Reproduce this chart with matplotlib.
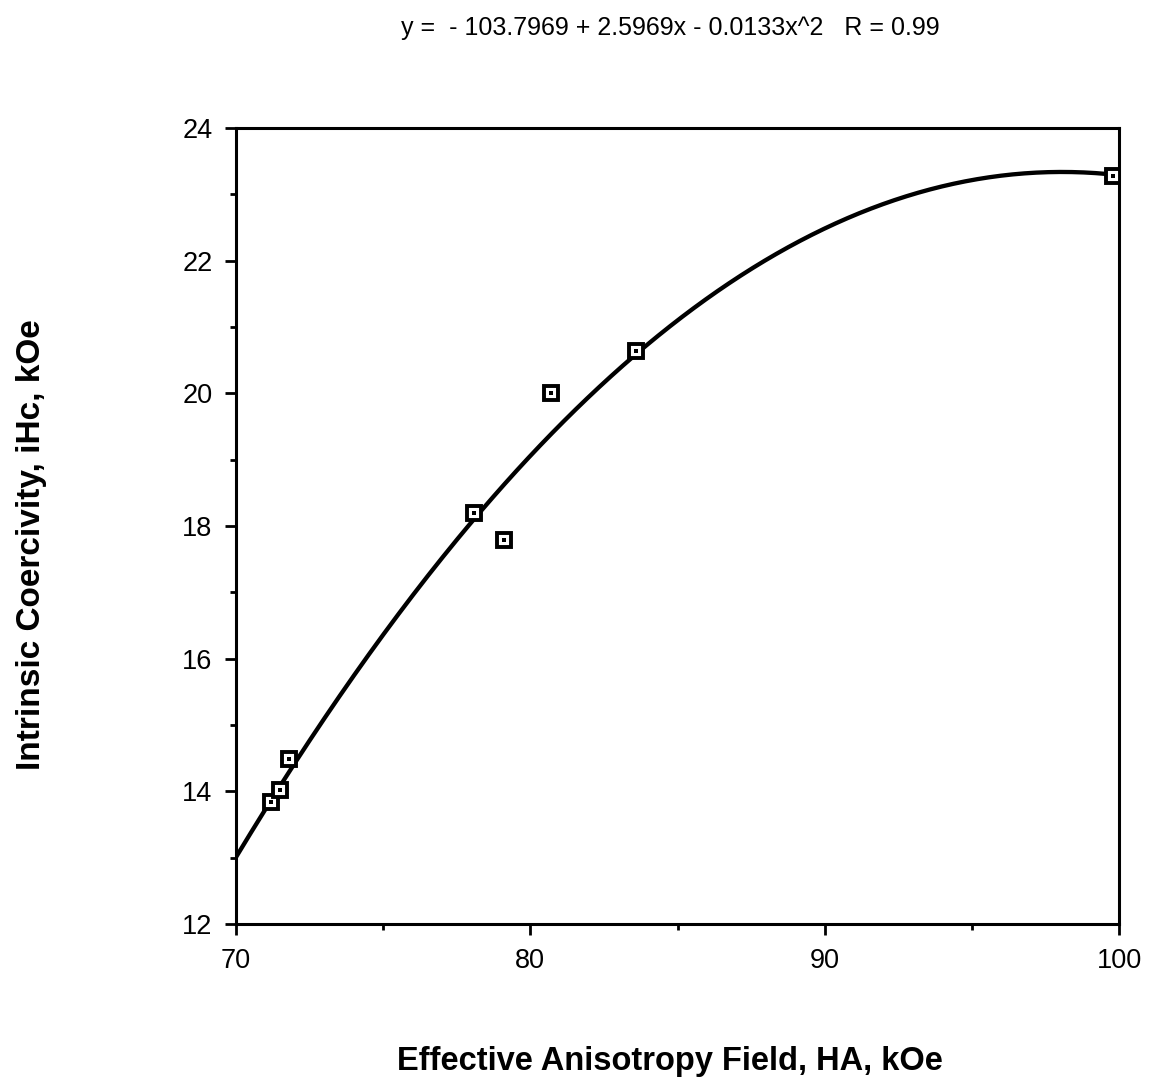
import matplotlib
matplotlib.use('Agg')
import matplotlib.pyplot as plt
import numpy as np

plt.rcParams['font.family'] = ['Liberation Sans', 'DejaVu Sans']

# measured samples
ha_koe = [71.2, 71.5, 71.8, 78.1, 79.1, 80.7, 83.6, 99.8]
ihc_koe = [13.84, 14.02, 14.49, 18.19, 17.79, 20.00, 20.64, 23.28]

equation = 'y =  - 103.7969 + 2.5969x - 0.0133x^2   R = 0.99'
x_ticks = [70, 80, 90, 100]
y_ticks = [12, 14, 16, 18, 20, 22, 24]

# second order fit through the samples
coef = np.polyfit(ha_koe, ihc_koe, 2)
xs = np.linspace(70, 100, 300)
ys = np.polyval(coef, xs)

fig = plt.figure(figsize=(11.49, 10.85), dpi=100)
ax = fig.add_axes([0.2054, 0.1484, 0.7685, 0.7336])

ax.plot(xs, ys, color='black', lw=3.1, solid_capstyle='round', zorder=2)
ax.plot(ha_koe, ihc_koe, linestyle='none', marker='s', ms=9.5, mfc='white',
        mec='black', mew=2.8, zorder=3)
ax.plot(ha_koe, ihc_koe, linestyle='none', marker='s', ms=2.2, mfc='black',
        mec='black', mew=0, zorder=4)

ax.set_xlim(70, 100)
ax.set_ylim(12, 24)
ax.set_xticks(x_ticks)
ax.set_yticks(y_ticks)
ax.set_xticks(np.arange(75, 100, 10), minor=True)
ax.set_yticks(np.arange(13, 24, 2), minor=True)
ax.tick_params(which='major', direction='out', length=8, width=2, labelsize=19.5,
               pad=9, colors='black')
ax.tick_params(which='minor', direction='out', length=4, width=2)
for s in ax.spines.values():
    s.set_linewidth(2.2)

fig.text(0.583, 0.974, equation, ha='center', va='center', fontsize=18)
fig.text(0.583, 0.022, 'Effective Anisotropy Field, HA, kOe', ha='center',
         va='center', fontsize=23.5, fontweight='bold')
fig.text(0.027, 0.498, 'Intrinsic Coercivity, iHc, kOe', ha='center',
         va='center', rotation=90, fontsize=24, fontweight='bold')

fig.savefig('out.png', dpi=100)
